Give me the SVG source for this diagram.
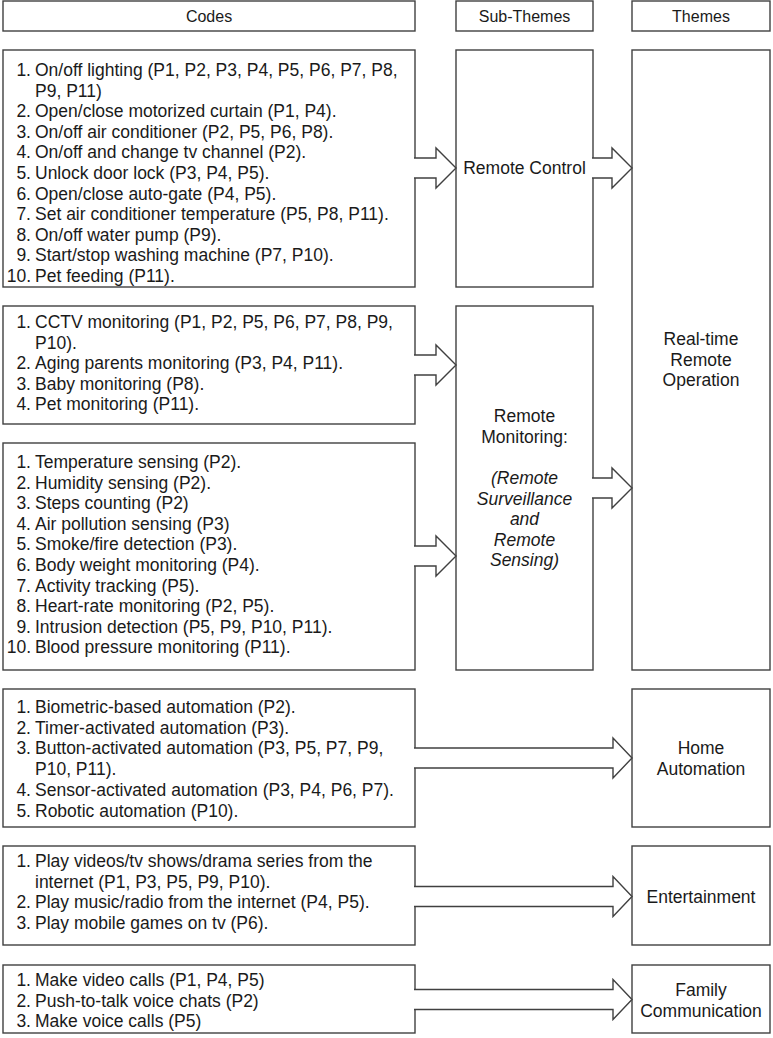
<svg xmlns="http://www.w3.org/2000/svg" width="773" height="1038" viewBox="0 0 773 1038">
<style>
  .box { fill: #ffffff; stroke: #404040; stroke-width: 1.4; }
  .arrow { fill: #ffffff; stroke: #404040; stroke-width: 1.4; stroke-linejoin: miter; }
  text { font-family: "Liberation Sans", Arial, sans-serif; font-size: 17.5px; fill: #1a1a1a; }
  .hdr { font-size: 16px; text-anchor: middle; }
  .num { text-anchor: end; }
  .c { text-anchor: middle; }
  .it { font-style: italic; }
</style>
<rect width="773" height="1038" fill="#ffffff"/>

<!-- headers -->
<g id="hdr-codes"><rect class="box" x="3" y="1" width="412" height="30"/><text class="hdr" x="209" y="22">Codes</text></g>
<g id="hdr-subthemes"><rect class="box" x="456" y="1" width="137" height="30"/><text class="hdr" x="524.5" y="22">Sub-Themes</text></g>
<g id="hdr-themes"><rect class="box" x="632" y="1" width="138" height="30"/><text class="hdr" x="701" y="22">Themes</text></g>

<!-- theme / subtheme nodes -->
<g id="sub-remote-control"><rect class="box" x="456" y="50" width="137" height="237"/><text class="c" x="524.5" y="174">Remote Control</text></g>
<g id="sub-remote-monitoring"><rect class="box" x="456" y="306" width="137" height="364"/>
  <text class="c" x="524.5" y="422">Remote</text>
  <text class="c" x="524.5" y="443">Monitoring:</text>
  <text class="c it" x="524.5" y="484">(Remote</text>
  <text class="c it" x="524.5" y="504.5">Surveillance</text>
  <text class="c it" x="524.5" y="525">and</text>
  <text class="c it" x="524.5" y="545.5">Remote</text>
  <text class="c it" x="524.5" y="566">Sensing)</text>
</g>
<g id="theme-realtime"><rect class="box" x="632" y="50" width="138" height="620"/>
  <text class="c" x="701" y="345">Real-time</text>
  <text class="c" x="701" y="365.5">Remote</text>
  <text class="c" x="701" y="386">Operation</text>
</g>
<g id="theme-home-automation"><rect class="box" x="632" y="689" width="138" height="138"/>
  <text class="c" x="701" y="754">Home</text>
  <text class="c" x="701" y="775">Automation</text>
</g>
<g id="theme-entertainment"><rect class="box" x="632" y="846" width="138" height="99"/>
  <text class="c" x="701" y="902.5">Entertainment</text>
</g>
<g id="theme-family"><rect class="box" x="632" y="965" width="138" height="68"/>
  <text class="c" x="701" y="996">Family</text>
  <text class="c" x="701" y="1017">Communication</text>
</g>

<!-- code boxes -->
<g id="codes-remote-control"><rect class="box" x="3" y="50" width="412" height="237"/>
  <text class="num" x="31" y="76">1.</text><text x="35" y="76">On/off lighting (P1, P2, P3, P4, P5, P6, P7, P8,</text>
  <text x="35" y="96.6">P9, P11)</text>
  <text class="num" x="31" y="117.2">2.</text><text x="35" y="117.2">Open/close motorized curtain (P1, P4).</text>
  <text class="num" x="31" y="137.8">3.</text><text x="35" y="137.8">On/off air conditioner (P2, P5, P6, P8).</text>
  <text class="num" x="31" y="158.4">4.</text><text x="35" y="158.4">On/off and change tv channel (P2).</text>
  <text class="num" x="31" y="179">5.</text><text x="35" y="179">Unlock door lock (P3, P4, P5).</text>
  <text class="num" x="31" y="199.6">6.</text><text x="35" y="199.6">Open/close auto-gate (P4, P5).</text>
  <text class="num" x="31" y="220.2">7.</text><text x="35" y="220.2">Set air conditioner temperature (P5, P8, P11).</text>
  <text class="num" x="31" y="240.8">8.</text><text x="35" y="240.8">On/off water pump (P9).</text>
  <text class="num" x="31" y="261.4">9.</text><text x="35" y="261.4">Start/stop washing machine (P7, P10).</text>
  <text class="num" x="31" y="282">10.</text><text x="35" y="282">Pet feeding (P11).</text>
</g>
<g id="codes-surveillance"><rect class="box" x="3" y="306" width="412" height="118"/>
  <text class="num" x="31" y="328">1.</text><text x="35" y="328">CCTV monitoring (P1, P2, P5, P6, P7, P8, P9,</text>
  <text x="35" y="348.6">P10).</text>
  <text class="num" x="31" y="369.2">2.</text><text x="35" y="369.2">Aging parents monitoring (P3, P4, P11).</text>
  <text class="num" x="31" y="389.8">3.</text><text x="35" y="389.8">Baby monitoring (P8).</text>
  <text class="num" x="31" y="410.4">4.</text><text x="35" y="410.4">Pet monitoring (P11).</text>
</g>
<g id="codes-sensing"><rect class="box" x="3" y="443" width="412" height="227"/>
  <text class="num" x="31" y="468">1.</text><text x="35" y="468">Temperature sensing (P2).</text>
  <text class="num" x="31" y="488.6">2.</text><text x="35" y="488.6">Humidity sensing (P2).</text>
  <text class="num" x="31" y="509.2">3.</text><text x="35" y="509.2">Steps counting (P2)</text>
  <text class="num" x="31" y="529.8">4.</text><text x="35" y="529.8">Air pollution sensing (P3)</text>
  <text class="num" x="31" y="550.4">5.</text><text x="35" y="550.4">Smoke/fire detection (P3).</text>
  <text class="num" x="31" y="571">6.</text><text x="35" y="571">Body weight monitoring (P4).</text>
  <text class="num" x="31" y="591.6">7.</text><text x="35" y="591.6">Activity tracking (P5).</text>
  <text class="num" x="31" y="612.2">8.</text><text x="35" y="612.2">Heart-rate monitoring (P2, P5).</text>
  <text class="num" x="31" y="632.8">9.</text><text x="35" y="632.8">Intrusion detection (P5, P9, P10, P11).</text>
  <text class="num" x="31" y="653.4">10.</text><text x="35" y="653.4">Blood pressure monitoring (P11).</text>
</g>
<g id="codes-automation"><rect class="box" x="3" y="689" width="412" height="138"/>
  <text class="num" x="31" y="713">1.</text><text x="35" y="713">Biometric-based automation (P2).</text>
  <text class="num" x="31" y="733.7">2.</text><text x="35" y="733.7">Timer-activated automation (P3).</text>
  <text class="num" x="31" y="754.4">3.</text><text x="35" y="754.4">Button-activated automation (P3, P5, P7, P9,</text>
  <text x="35" y="775.1">P10, P11).</text>
  <text class="num" x="31" y="795.8">4.</text><text x="35" y="795.8">Sensor-activated automation (P3, P4, P6, P7).</text>
  <text class="num" x="31" y="816.5">5.</text><text x="35" y="816.5">Robotic automation (P10).</text>
</g>
<g id="codes-entertainment"><rect class="box" x="3" y="846" width="412" height="99"/>
  <text class="num" x="31" y="867">1.</text><text x="35" y="867">Play videos/tv shows/drama series from the</text>
  <text x="35" y="887.6">internet (P1, P3, P5, P9, P10).</text>
  <text class="num" x="31" y="908.2">2.</text><text x="35" y="908.2">Play music/radio from the internet (P4, P5).</text>
  <text class="num" x="31" y="928.8">3.</text><text x="35" y="928.8">Play mobile games on tv (P6).</text>
</g>
<g id="codes-family"><rect class="box" x="3" y="965" width="412" height="68"/>
  <text class="num" x="31" y="986">1.</text><text x="35" y="986">Make video calls (P1, P4, P5)</text>
  <text class="num" x="31" y="1006.5">2.</text><text x="35" y="1006.5">Push-to-talk voice chats (P2)</text>
  <text class="num" x="31" y="1027">3.</text><text x="35" y="1027">Make voice calls (P5)</text>
</g>

<!-- connectors: block arrows -->
<g id="connectors">
  <path class="arrow" d="M414,158 H436 V148 L456,168 L436,188 V178 H414"/>
  <path class="arrow" d="M414,355 H436 V345 L456,365 L436,385 V375 H414"/>
  <path class="arrow" d="M414,546 H436 V536 L456,556 L436,576 V566 H414"/>
  <path class="arrow" d="M592,158 H612 V148 L632,168 L612,188 V178 H592"/>
  <path class="arrow" d="M592,478 H612 V468 L632,488 L612,508 V498 H592"/>
  <path class="arrow" d="M414,748 H613 V738 L632,758 L613,778 V768 H414"/>
  <path class="arrow" d="M414,886.5 H613 V876.5 L632,896.5 L613,916.5 V906.5 H414"/>
  <path class="arrow" d="M414,989.5 H613 V979.5 L632,999.5 L613,1019.5 V1009.5 H414"/>
</g>
</svg>
